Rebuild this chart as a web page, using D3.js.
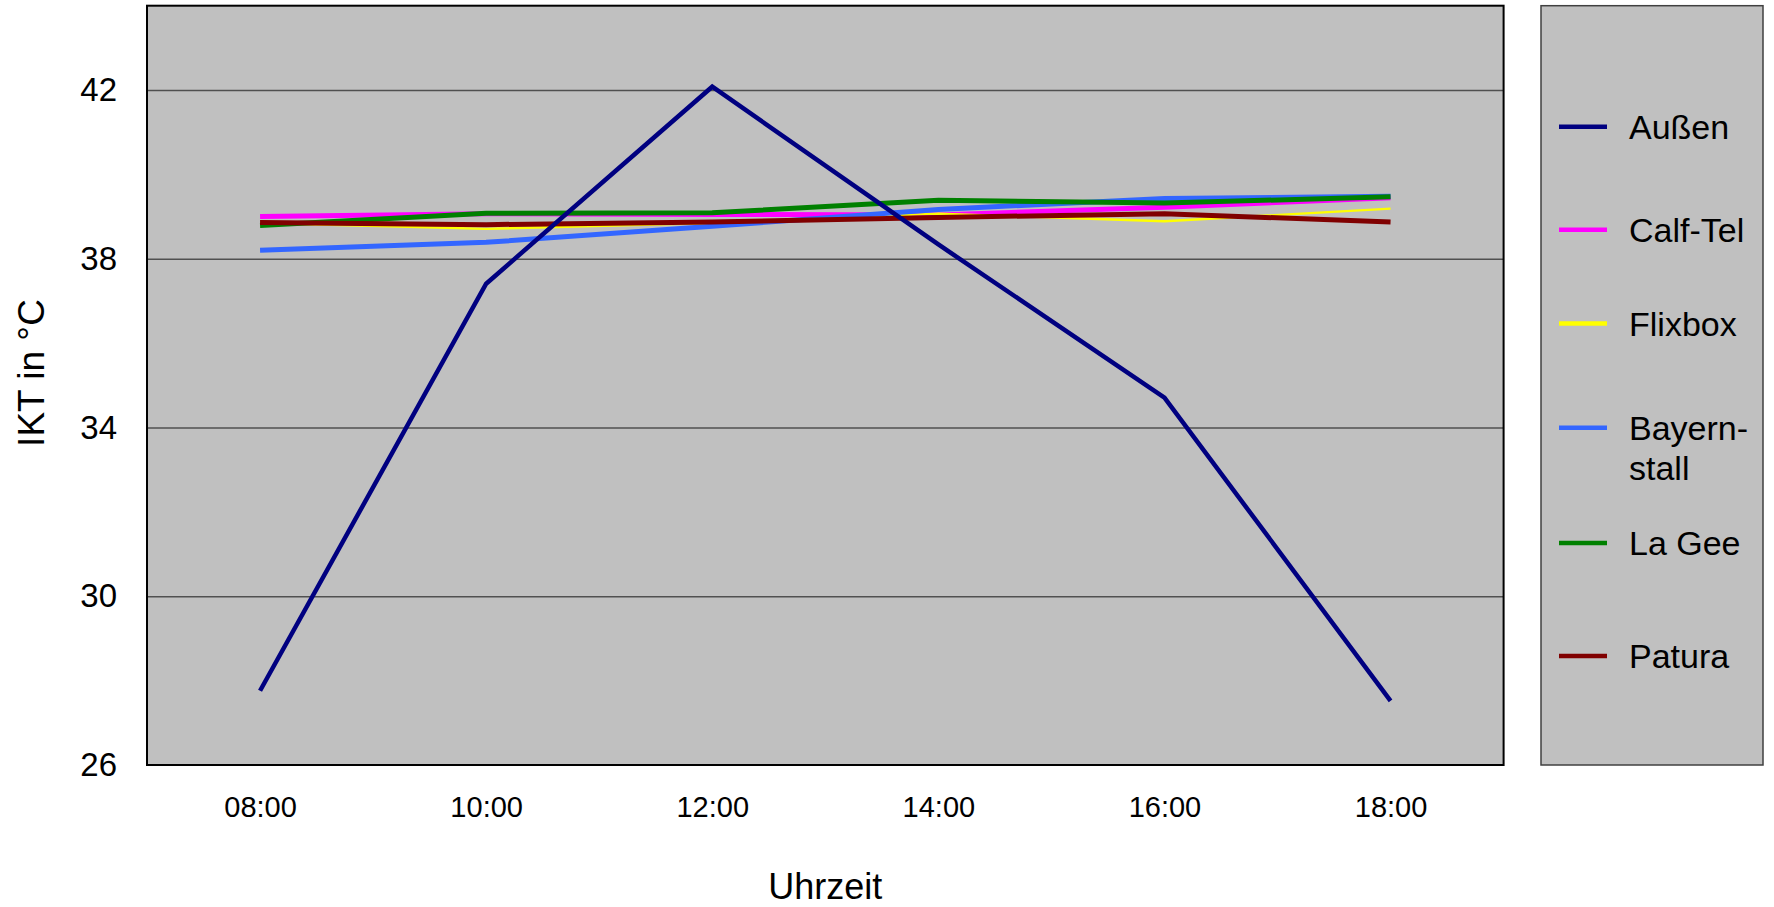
<!DOCTYPE html>
<html>
<head>
<meta charset="utf-8">
<script src="https://cdn.jsdelivr.net/npm/d3@7"></script>
<style>
  html, body { margin: 0; padding: 0; background: #ffffff; }
  svg { display: block; font-family: "Liberation Sans", Arial, sans-serif; }
</style>
</head>
<body>
<svg id="chart" width="1774" height="907"></svg>
<script>
// ---- data ----
const categories = ["08:00", "10:00", "12:00", "14:00", "16:00", "18:00"];
const seriesNames = ["Außen", "Calf-Tel", "Flixbox", "Bayernstall", "La Gee", "Patura"];
const aussen      = [27.76, 37.41, 42.08, 38.34, 34.71, 27.52];
const calfTel     = [39.00, 39.07, 39.05, 39.04, 39.22, 39.45];
const flixbox     = [38.85, 38.71, 38.85, 39.07, 38.89, 39.19];
const bayernstall = [38.20, 38.39, 38.77, 39.17, 39.43, 39.48];
const laGee       = [38.79, 39.08, 39.09, 39.39, 39.32, 39.47];
const patura      = [38.86, 38.81, 38.87, 38.98, 39.07, 38.87];
const yTicks = [26, 30, 34, 38, 42];
const yDomain = [26, 44];
const legendLabels = [["Außen"], ["Calf-Tel"], ["Flixbox"], ["Bayern-", "stall"], ["La Gee"], ["Patura"]];

// ---- styles ----
const colors = {"Außen": "#000080", "Calf-Tel": "#ff00ff", "Flixbox": "#ffff00",
                "Bayernstall": "#3366ff", "La Gee": "#008000", "Patura": "#800000"};
const widths = {"Außen": 4.5, "Calf-Tel": 5, "Flixbox": 2.4, "Bayernstall": 5, "La Gee": 5, "Patura": 5};
const valuesBy = {"Außen": aussen, "Calf-Tel": calfTel, "Flixbox": flixbox,
                  "Bayernstall": bayernstall, "La Gee": laGee, "Patura": patura};
// drawing order (later on top)
const drawOrder = ["Calf-Tel", "Flixbox", "Bayernstall", "La Gee", "Patura", "Außen"];

const svg = d3.select("#chart");
const plot = {left: 147, top: 5.7, right: 1503.6, bottom: 765};

const x = d3.scalePoint().domain(categories).range([plot.left, plot.right]).padding(0.5);
const y = d3.scaleLinear().domain(yDomain).range([plot.bottom, plot.top]);

// plot background
svg.append("rect")
  .attr("x", plot.left).attr("y", plot.top)
  .attr("width", plot.right - plot.left).attr("height", plot.bottom - plot.top)
  .attr("fill", "#c0c0c0");

// gridlines
svg.append("g")
  .attr("transform", `translate(${plot.left},0)`)
  .call(d3.axisLeft(y).tickValues(yTicks.filter(t => t > yDomain[0])).tickSize(-(plot.right - plot.left)).tickFormat(""))
  .call(g => g.select(".domain").remove())
  .call(g => g.selectAll("line").attr("stroke", "#505050").attr("stroke-width", 1.5));

// series lines
const line = d3.line().x((d, i) => x(categories[i])).y(d => y(d));
svg.append("g").selectAll("path")
  .data(drawOrder)
  .join("path")
  .attr("d", n => line(valuesBy[n]))
  .attr("fill", "none")
  .attr("stroke", n => colors[n])
  .attr("stroke-width", n => widths[n])
  .attr("stroke-linejoin", "miter")
  .attr("stroke-linecap", "butt");

// plot frame
svg.append("rect")
  .attr("x", plot.left).attr("y", plot.top)
  .attr("width", plot.right - plot.left).attr("height", plot.bottom - plot.top)
  .attr("fill", "none").attr("stroke", "#000").attr("stroke-width", 2);

// y axis labels
svg.append("g")
  .attr("transform", `translate(${plot.left},0)`)
  .call(d3.axisLeft(y).tickValues(yTicks).tickSize(0).tickPadding(30))
  .call(g => g.select(".domain").remove())
  .call(g => g.selectAll("text").attr("font-size", 33).attr("fill", "#000")
      .attr("font-family", "Liberation Sans, Arial, sans-serif"));

// x axis labels
svg.append("g")
  .attr("transform", `translate(0,${plot.bottom})`)
  .call(d3.axisBottom(x).tickSize(0).tickPadding(31))
  .call(g => g.select(".domain").remove())
  .call(g => g.selectAll("text").attr("font-size", 29).attr("fill", "#000")
      .attr("font-family", "Liberation Sans, Arial, sans-serif"));

// axis titles
svg.append("text")
  .attr("transform", "translate(44,373) rotate(-90)")
  .attr("text-anchor", "middle")
  .attr("font-size", 37).attr("fill", "#000")
  .text("IKT in °C");
svg.append("text")
  .attr("x", (plot.left + plot.right) / 2).attr("y", 899)
  .attr("text-anchor", "middle")
  .attr("font-size", 36).attr("fill", "#000")
  .text("Uhrzeit");

// legend
const leg = {left: 1541, top: 5.7, right: 1763, bottom: 765};
svg.append("rect")
  .attr("x", leg.left).attr("y", leg.top)
  .attr("width", leg.right - leg.left).attr("height", leg.bottom - leg.top)
  .attr("fill", "#c0c0c0").attr("stroke", "#404040").attr("stroke-width", 1.5);

const legendY = [126.7, 229.7, 323.6, 427.7, 543, 656];
const lg = svg.append("g").selectAll("g")
  .data(seriesNames)
  .join("g")
  .attr("transform", (d, i) => `translate(0,${legendY[i]})`);
lg.append("line")
  .attr("x1", 1559).attr("x2", 1607).attr("y1", 0).attr("y2", 0)
  .attr("stroke", d => colors[d]).attr("stroke-width", 4.5);
lg.append("text")
  .attr("x", 1629).attr("y", 0)
  .attr("font-size", 34).attr("fill", "#000")
  .selectAll("tspan")
  .data((d, i) => legendLabels[i])
  .join("tspan")
  .attr("x", 1629)
  .attr("dy", (t, j) => j === 0 ? 12 : 40.7)
  .text(t => t);
</script>
</body>
</html>
